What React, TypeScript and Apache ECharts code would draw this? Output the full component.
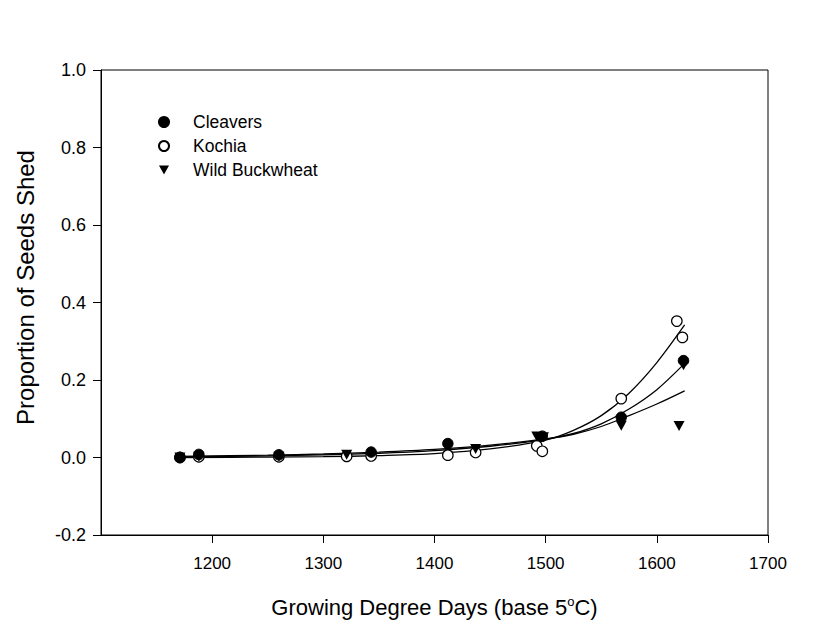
import React, { useEffect, useRef } from "react";
import * as echarts from "echarts";

const xTicks = [1200, 1300, 1400, 1500, 1600, 1700];
const yTicks = [-0.2, 0.0, 0.2, 0.4, 0.6, 0.8, 1.0];

const cleaversPts: [number, number][] = [
  [1171, 0.0], [1188, 0.008], [1260, 0.007], [1343, 0.014],
  [1412, 0.036], [1497, 0.055], [1568, 0.104], [1624, 0.25],
];
const kochiaPts: [number, number][] = [
  [1171, 0.0], [1188, 0.002], [1260, 0.002], [1321, 0.003], [1343, 0.004],
  [1412, 0.006], [1437, 0.013], [1492, 0.03], [1497, 0.016],
  [1568, 0.152], [1618, 0.352], [1623, 0.31],
];
const buckwheatPts: [number, number][] = [
  [1171, 0.0], [1188, 0.002], [1260, 0.002], [1321, 0.007], [1437, 0.022],
  [1492, 0.054], [1498, 0.052], [1568, 0.082], [1620, 0.081], [1624, 0.238],
];

const kochiaFit: [number, number][] = [
  [1171, 0.0], [1250, 0.001], [1300, 0.002], [1350, 0.005], [1400, 0.010],
  [1450, 0.022], [1500, 0.045], [1525, 0.070], [1550, 0.108], [1575, 0.166],
  [1600, 0.245], [1625, 0.342],
];
const cleaversFit: [number, number][] = [
  [1171, 0.002], [1250, 0.004], [1300, 0.007], [1350, 0.011], [1400, 0.018],
  [1450, 0.029], [1500, 0.047], [1525, 0.062], [1550, 0.087], [1575, 0.125],
  [1600, 0.175], [1623, 0.237],
];
const buckwheatFit: [number, number][] = [
  [1171, 0.003], [1250, 0.006], [1300, 0.009], [1350, 0.014], [1400, 0.021],
  [1450, 0.032], [1500, 0.048], [1525, 0.060], [1550, 0.080], [1575, 0.108],
  [1600, 0.138], [1625, 0.172],
];

const FONT = "Liberation Sans, Arial, sans-serif";
const TRI = "path://M0,0 L10,0 L5,9 Z";

export default function App() {
  const ref = useRef<HTMLDivElement>(null);
  useEffect(() => {
    document.body.style.margin = "0";
    if (!ref.current) return;
    const chart = echarts.init(ref.current, undefined, { renderer: "svg" });
    const fitLine = (name: string, data: [number, number][]) => ({
      name,
      type: "line",
      data,
      smooth: 0.3,
      showSymbol: false,
      symbol: "none",
      lineStyle: { color: "#000", width: 1.3 },
      z: 2,
      silent: true,
    });
    chart.setOption({
      animation: false,
      backgroundColor: "#fff",
      textStyle: { fontFamily: FONT },
      grid: {
        left: 101, right: 50, top: 70, bottom: 90,
        show: true, borderColor: "#000", borderWidth: 1,
      },
      legend: {
        orient: "vertical",
        left: 153,
        top: 108,
        itemWidth: 10,
        itemHeight: 10,
        itemGap: 6,
        data: ["Cleavers", "Kochia", "Wild Buckwheat"],
        textStyle: { fontSize: 17.5, color: "#000", fontFamily: FONT, padding: [0, 0, 0, 19] },
      },
      xAxis: {
        type: "value",
        min: 1100,
        max: 1700,
        interval: 100,
        name: "Growing Degree Days (base 5{sup|o}C)",
        nameLocation: "middle",
        nameGap: 60,
        nameTextStyle: {
          fontSize: 22, color: "#000", fontFamily: FONT,
          rich: { sup: { fontSize: 13, color: "#000", fontFamily: FONT, padding: [0, 0, 12, 0] } },
        },
        axisLine: { onZero: false, lineStyle: { color: "#000", width: 1 } },
        axisTick: { show: true, length: 8, inside: false, customValues: xTicks, lineStyle: { color: "#000" } },
        axisLabel: {
          fontSize: 17, color: "#000", margin: 20, customValues: xTicks, fontFamily: FONT,
          formatter: (v: number) => String(v),
        },
        splitLine: { show: false },
      },
      yAxis: {
        type: "value",
        min: -0.2,
        max: 1.0,
        interval: 0.2,
        name: "Proportion of Seeds Shed",
        nameLocation: "middle",
        nameGap: 64,
        nameTextStyle: { fontSize: 24, color: "#000", fontFamily: FONT, padding: [0, 0, 0, 30] },
        axisLine: { lineStyle: { color: "#000", width: 1 } },
        axisTick: { show: true, length: 8, inside: false, customValues: yTicks, lineStyle: { color: "#000" } },
        axisLabel: {
          fontSize: 18, color: "#000", margin: 15, fontFamily: FONT,
          customValues: yTicks,
          formatter: (v: number) => v.toFixed(1),
        },
        splitLine: { show: false },
      },
      series: [
        {
          name: "Cleavers",
          type: "scatter",
          data: cleaversPts,
          symbol: "circle",
          symbolSize: 10.5,
          itemStyle: { color: "#000", borderColor: "#000", borderWidth: 1, opacity: 1 },
          z: 4,
        },
        {
          name: "Kochia",
          type: "scatter",
          data: kochiaPts,
          symbol: "circle",
          symbolSize: 10.5,
          itemStyle: { color: "#fff", borderColor: "#000", borderWidth: 1.2, opacity: 1 },
          z: 3,
        },
        {
          name: "Wild Buckwheat",
          type: "scatter",
          data: buckwheatPts,
          symbol: TRI,
          symbolSize: [11, 10],
          itemStyle: { color: "#000", opacity: 1 },
          z: 4,
        },
        fitLine("Kochia fit", kochiaFit),
        fitLine("Cleavers fit", cleaversFit),
        fitLine("Wild Buckwheat fit", buckwheatFit),
      ],
    });
    return () => chart.dispose();
  }, []);
  return <div ref={ref} style={{ width: 818, height: 625 }} />;
}
